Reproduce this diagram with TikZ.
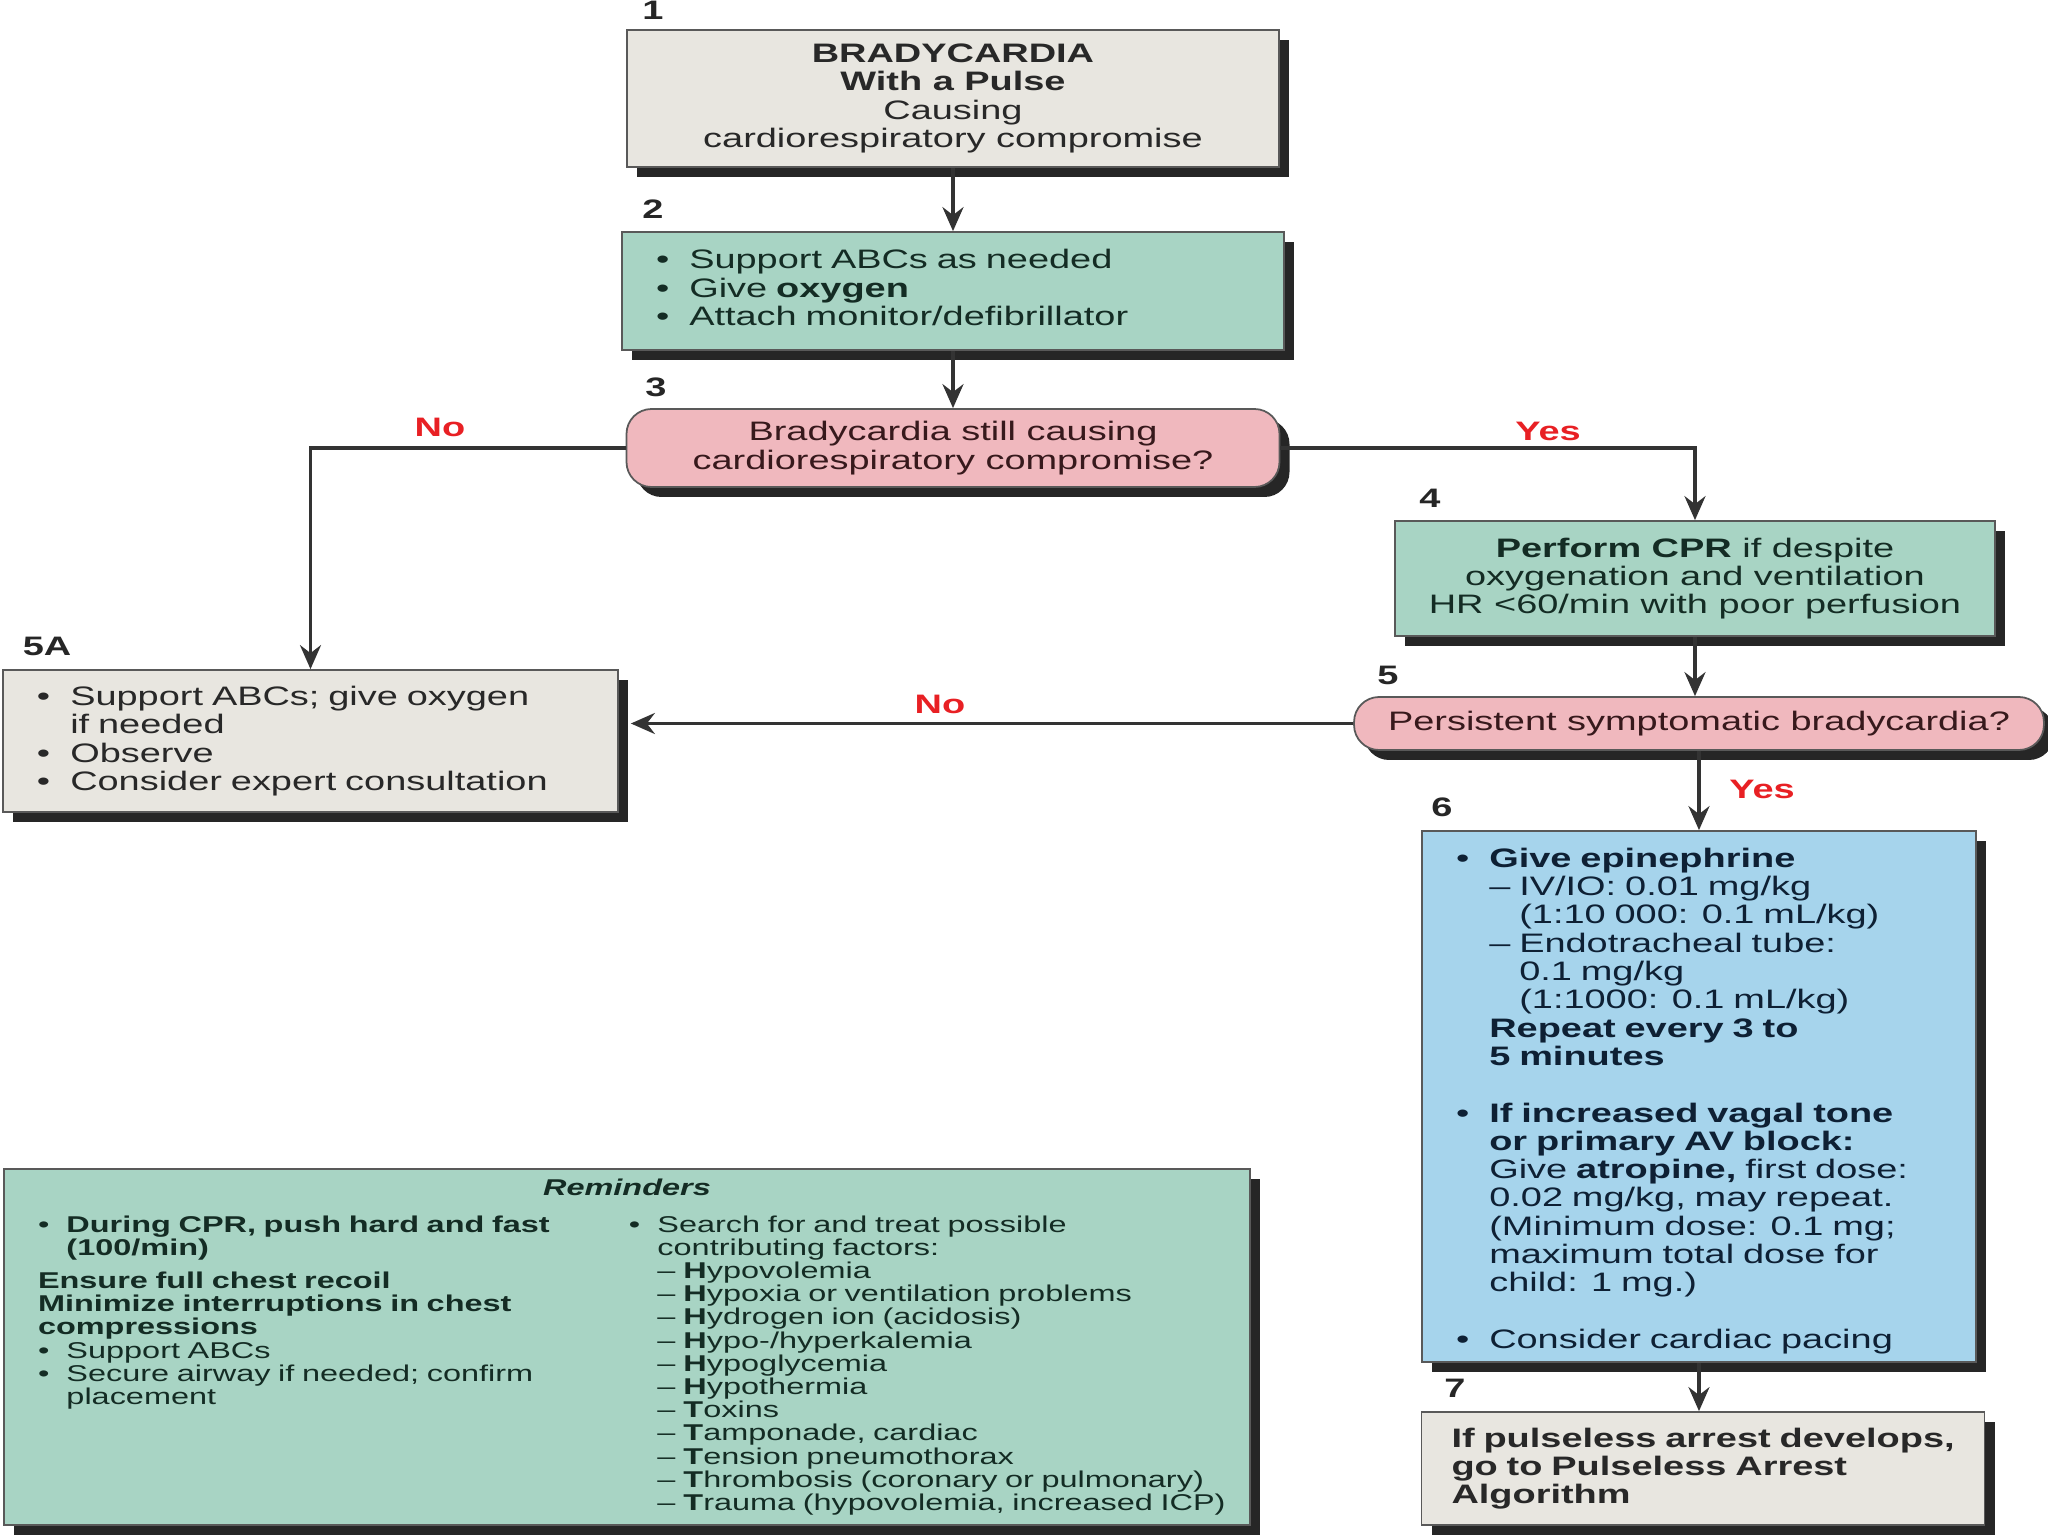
\documentclass[tikz,border=0pt]{standalone}
\usepackage{fontspec}
\setmainfont{Liberation Sans}[FakeStretch=1.42]
\usetikzlibrary{arrows.meta,shadows,calc}

\definecolor{graybg}{RGB}{232,230,224}
\definecolor{tealbg}{RGB}{168,212,196}
\definecolor{pinkbg}{RGB}{240,184,190}
\definecolor{bluebg}{RGB}{166,212,236}
\definecolor{yesnored}{RGB}{232,32,36}
\definecolor{grtxt}{RGB}{40,40,40}
\definecolor{tltxt}{RGB}{20,44,36}
\definecolor{pktxt}{RGB}{55,25,28}
\definecolor{bltxt}{RGB}{14,32,52}

\setlength{\lineskiplimit}{-8pt}
\newlength{\bulw}
\newlength{\dashw}

% one line of a list: bullet, continuation, dash, dash continuation, plain
\newcommand{\bl}[1]{\par\lineskiplimit=-8pt\noindent\makebox[\bulw][l]{\textbullet}\mbox{#1}}
\newcommand{\il}[1]{\par\lineskiplimit=-8pt\noindent\hspace*{\bulw}\mbox{#1}}
\newcommand{\dl}[1]{\par\lineskiplimit=-8pt\noindent\hspace*{\bulw}\makebox[\dashw][l]{--}\mbox{#1}}
\newcommand{\iil}[1]{\par\lineskiplimit=-8pt\noindent\hspace*{\bulw}\hspace*{\dashw}\mbox{#1}}
\newcommand{\pl}[1]{\par\lineskiplimit=-8pt\noindent\mbox{#1}}

\newcommand{\boxfont}{\fontsize{7.6}{8.05}\selectfont\lineskiplimit=-8pt\relax
  \setlength{\bulw}{3.33mm}\setlength{\dashw}{3.0mm}}
\newcommand{\remfont}{\fontsize{6.5}{6.6}\selectfont\lineskiplimit=-8pt\relax
  \setlength{\bulw}{2.85mm}\setlength{\dashw}{2.6mm}}

\tikzset{
  box/.style={draw=black!65, line width=0.5pt, inner xsep=0.34cm, inner ysep=0pt,
    drop shadow={shadow xshift=1mm, shadow yshift=-1mm, opacity=1, fill=black!85},
    font=\boxfont},
  graybox/.style={box, fill=graybg, text=grtxt},
  tealbox/.style={box, fill=tealbg, text=tltxt},
  pinkbox/.style={box, fill=pinkbg, text=pktxt, rounded corners=2.5mm},
  bluebox/.style={box, fill=bluebg, text=bltxt},
  numlab/.style={font=\bfseries\fontsize{7.6}{8}\selectfont, text=black!85, inner sep=0pt},
  yn/.style={font=\bfseries\fontsize{7.6}{8}\selectfont, text=yesnored, inner sep=0pt},
  conn/.style={draw=black!80, line width=1pt, -{Stealth[length=2.4mm, width=2.1mm, inset=0.8mm]}}
}

\begin{document}
\begin{tikzpicture}

\useasboundingbox (0,0) rectangle (20.48,-15.36);

% 1: bradycardia with a pulse
\node[graybox, minimum width=6.52cm, minimum height=1.37cm, align=center] (b1) at (9.53,-0.985)
  {\textbf{BRADYCARDIA}\\\textbf{With a Pulse}\\Causing\\cardiorespiratory compromise};

% 2: support ABCs
\node[tealbox, minimum width=6.62cm, minimum height=1.18cm, text width=5.94cm, align=left] (b2) at (9.53,-2.91)
  {\bl{Support ABCs as needed}
   \bl{Give \textbf{oxygen}}
   \bl{Attach monitor/defibrillator}
   \par\vspace{4.5pt}};

% 3: question
\node[pinkbox, minimum width=6.53cm, minimum height=0.78cm, align=center] (b3) at (9.53,-4.48)
  {Bradycardia still causing\\cardiorespiratory compromise?};

% 4: CPR
\node[tealbox, minimum width=5.97cm, minimum height=1.15cm, align=center] (b4) at (16.95,-5.785)
  {\textbf{Perform CPR} if despite\\oxygenation and ventilation\\HR <60/min with poor perfusion};

% 5: question
\node[pinkbox, minimum width=6.77cm, minimum height=0.53cm, align=center] (b5) at (16.99,-7.235)
  {Persistent symptomatic bradycardia?};

% 5A: observe
\node[graybox, minimum width=6.15cm, minimum height=1.42cm, text width=5.47cm, align=left] (b5a) at (3.105,-7.41)
  {\bl{Support ABCs; give oxygen}
   \il{if needed}
   \bl{Observe}
   \bl{Consider expert consultation}
   \par\vspace{2.5pt}};

% 6: drugs
\node[bluebox, minimum width=5.54cm, minimum height=5.31cm, text width=4.86cm, align=left] (b6) at (16.99,-10.965)
  {\bl{\textbf{Give epinephrine}}
   \dl{IV/IO: 0.01 mg/kg}
   \iil{(1:10 000: 0.1 mL/kg)}
   \dl{Endotracheal tube:}
   \iil{0.1 mg/kg}
   \iil{(1:1000: 0.1 mL/kg)}
   \il{\textbf{Repeat every 3 to}}
   \il{\textbf{5 minutes}}
   \par\vspace{8.05pt}
   \bl{\textbf{If increased vagal tone}}
   \il{\textbf{or primary AV block:}}
   \il{Give \textbf{atropine,} first dose:}
   \il{0.02 mg/kg, may repeat.}
   \il{(Minimum dose: 0.1 mg;}
   \il{maximum total dose for}
   \il{child: 1 mg.)}
   \par\vspace{8.05pt}
   \bl{Consider cardiac pacing}};

% 7: pulseless arrest
\node[graybox, inner xsep=0.3cm, minimum width=5.63cm, minimum height=1.13cm, text width=5.03cm, align=left] (b7) at (17.03,-14.685)
  {\pl{\textbf{If pulseless arrest develops,}}
   \pl{\textbf{go to Pulseless Arrest}}
   \pl{\textbf{Algorithm}}
   \par\vspace{2.5pt}};

% Reminders
\node[tealbox, font=\remfont, minimum width=12.46cm, minimum height=3.56cm, text width=11.78cm, align=left] (rem) at (6.27,-13.47)
  {{\centering\bfseries\itshape Reminders\par}
   \vspace{3.9pt}
   \noindent\begin{minipage}[t]{5.91cm}
   \bl{\textbf{During CPR, push hard and fast}}
   \il{\textbf{(100/min)}}
   \par\vspace{2.8pt}
   \pl{\textbf{Ensure full chest recoil}}
   \pl{\textbf{Minimize interruptions in chest}}
   \pl{\textbf{compressions}}
   \bl{Support ABCs}
   \bl{Secure airway if needed; confirm}
   \il{placement}
   \end{minipage}%
   \begin{minipage}[t]{5.87cm}
   \bl{Search for and treat possible}
   \il{contributing factors:}
   \dl{\textbf{H}ypovolemia}
   \dl{\textbf{H}ypoxia or ventilation problems}
   \dl{\textbf{H}ydrogen ion (acidosis)}
   \dl{\textbf{H}ypo-/hyperkalemia}
   \dl{\textbf{H}ypoglycemia}
   \dl{\textbf{H}ypothermia}
   \dl{\textbf{T}oxins}
   \dl{\textbf{T}amponade, cardiac}
   \dl{\textbf{T}ension pneumothorax}
   \dl{\textbf{T}hrombosis (coronary or pulmonary)}
   \dl{\textbf{T}rauma (hypovolemia, increased ICP)}
   \end{minipage}};

% Step numbers
\node[numlab] (n1) at (6.53,-0.1) {1};
\node[numlab] (n2) at (6.53,-2.09) {2};
\node[numlab] (n3) at (6.56,-3.87) {3};
\node[numlab] (n4) at (14.30,-4.98) {4};
\node[numlab] (n5) at (13.88,-6.75) {5};
\node[numlab] (n5a) at (0.47,-6.46) {5A};
\node[numlab] (n6) at (14.42,-8.07) {6};
\node[numlab] (n7) at (14.55,-13.88) {7};

% Yes / No labels
\node[yn] (no1) at (4.40,-4.27) {No};
\node[yn] (yes1) at (15.48,-4.31) {Yes};
\node[yn] (no2) at (9.40,-7.04) {No};
\node[yn] (yes2) at (17.62,-7.89) {Yes};

% Connectors
\draw[conn] (b1.south) -- (b1.south |- b2.north);
\draw[conn] (b2.south) -- (b2.south |- b3.north);
\draw[conn] (b3.west) -| (b5a.north);
\draw[conn] (b3.east) -| (b4.north);
\draw[conn] (b4.south) -- (b4.south |- b5.north);
\draw[conn] (b5.west) -- ([xshift=1.2mm]b5.west -| b5a.east);
\draw[conn] (b5.south) -- (b5.south |- b6.north);
\draw[conn] (b6.south) -- (b6.south |- b7.north);

\end{tikzpicture}
\end{document}
